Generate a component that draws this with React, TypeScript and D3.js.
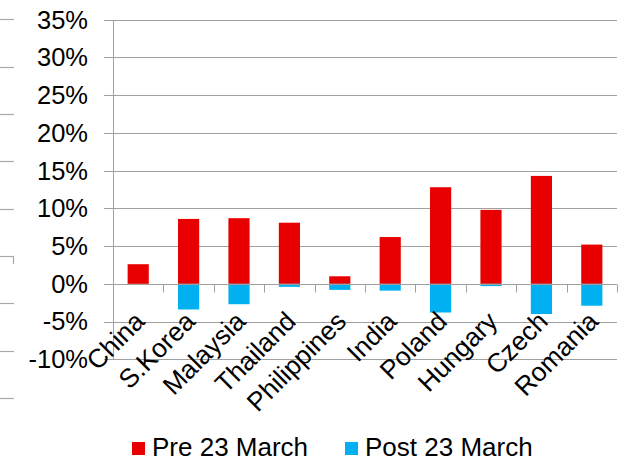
import React from "react";
import * as d3 from "d3";

const categories = ["China", "S.Korea", "Malaysia", "Thailand", "Philippines", "India", "Poland", "Hungary", "Czech", "Romania"];
const preValues = [2.6, 8.6, 8.7, 8.1, 1.0, 6.2, 12.8, 9.8, 14.3, 5.2];
const postValues = [0, -3.4, -2.7, -0.4, -0.8, -0.9, -3.8, -0.3, -4.0, -2.9];
const yTicks = [-10, -5, 0, 5, 10, 15, 20, 25, 30, 35];
const seriesNames = ["Pre 23 March", "Post 23 March"];
const colors = ["#E80000", "#00B0F0"];
const leftStubs = [0, 1, 2, 3, 4, 5, 6, 7, 8];

export default function App() {
  const W = 631, H = 461;
  const x = d3.scaleBand<string>().domain(categories).range([113, 617]).padding(0);
  const y = d3.scaleLinear().domain([-10, 35]).range([359.3, 19.7]);
  const bw = x.bandwidth() * 0.42;
  const stub = d3.scaleLinear().domain([0, 8]).range([19.3, 398]);
  const grid = "#A0A0A0";
  const font = "'Liberation Sans', Arial, sans-serif";
  const y0 = Math.round(y(0)) + 0.5;
  return (
    <svg width={W} height={H} style={{ position: "absolute", left: 0, top: 0 }} fontFamily={font}>
      <rect width={W} height={H} fill="#fff" />
      {leftStubs.map((d) => (
        <line key={"s" + d} x1={0} x2={14} y1={Math.round(stub(d)) + 0.5} y2={Math.round(stub(d)) + 0.5} stroke="#A8A8A8" strokeWidth={1.2} />
      ))}
      <line x1={13.5} x2={13.5} y1={Math.round(stub(5)) + 0.5} y2={Math.round(stub(5)) + 8} stroke="#A8A8A8" strokeWidth={1.2} />
      {yTicks.map((t) => (
        <g key={t}>
          <line x1={104} x2={617} y1={Math.round(y(t)) + 0.5} y2={Math.round(y(t)) + 0.5} stroke={grid} strokeWidth={1} />
          <text x={88} y={y(t)} dy="0.35em" textAnchor="end" fontSize={25.5} fill="#000">{t + "%"}</text>
        </g>
      ))}
      <line x1={113.5} x2={113.5} y1={Math.round(y(35))} y2={Math.round(y(-10)) + 1} stroke={grid} strokeWidth={1} />
      {categories.map((c, i) => (
        <g key={c}>
          <rect x={(x(c) as number) + (x.bandwidth() - bw) / 2} y={y(preValues[i])} width={bw} height={y(0) - y(preValues[i])} fill={colors[0]} />
          {postValues[i] < 0 && (
            <rect x={(x(c) as number) + (x.bandwidth() - bw) / 2} y={y(0)} width={bw} height={y(postValues[i]) - y(0)} fill={colors[1]} />
          )}
        </g>
      ))}
      <line x1={104} x2={617} y1={y0} y2={y0} stroke={grid} strokeWidth={1} />
      {categories.map((c, i) => (
        <line key={"t" + c} x1={Math.round((x(c) as number) + x.bandwidth()) + 0.5} x2={Math.round((x(c) as number) + x.bandwidth()) + 0.5} y1={y0} y2={y0 + 8} stroke={grid} strokeWidth={1} />
      ))}
      {categories.map((c) => {
        const cx = (x(c) as number) + x.bandwidth() / 2;
        return (
          <text key={"l" + c} transform={`translate(${cx + 8},${323}) rotate(-45)`} textAnchor="end" fontSize={26.3} fill="#000">{c}</text>
        );
      })}
      {seriesNames.map((s, i) => {
        const lx = i === 0 ? 132 : 345;
        return (
          <g key={s}>
            <rect x={lx} y={442} width={13} height={13} fill={colors[i]} />
            <text x={lx + 20} y={455.5} fontSize={26} fill="#000">{s}</text>
          </g>
        );
      })}
    </svg>
  );
}
